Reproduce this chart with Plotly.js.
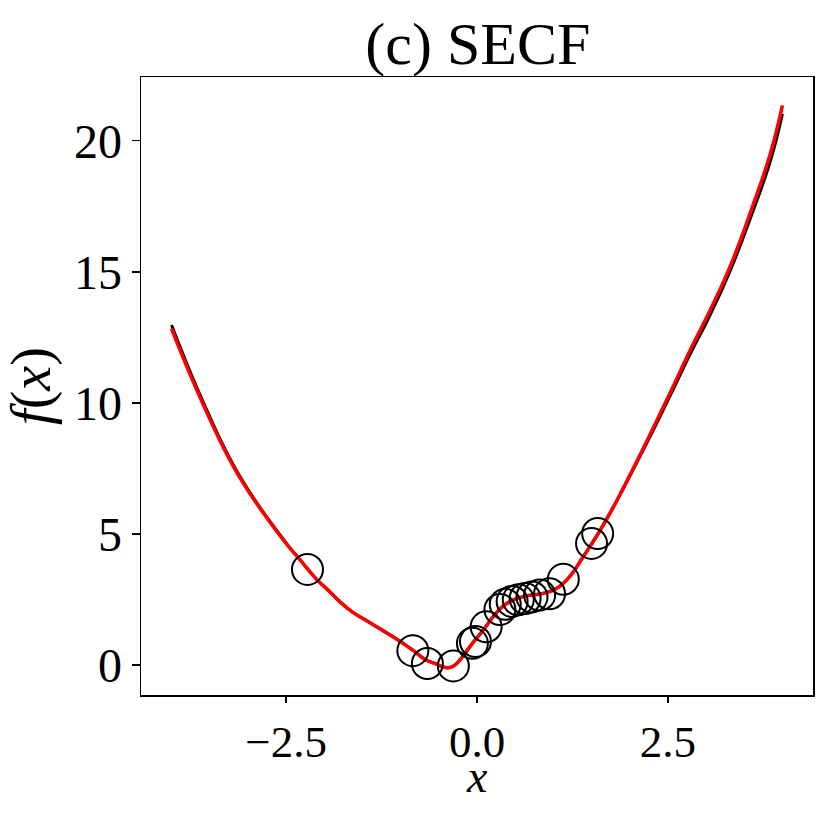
<!DOCTYPE html>
<html>
<head>
<meta charset="utf-8">
<script src="https://cdn.plot.ly/plotly-3.0.1.min.js"></script>
<style>
  html, body { margin: 0; padding: 0; background: #fff; }
  #chart { width: 831px; height: 831px; }
</style>
</head>
<body>
<div id="chart"></div>
<script>
/* -------------------- DATA -------------------- */

// true function (black)
const trueX = [-4.00, -3.55, -3.11, -2.50, -2.33, -2.11, -1.95, -1.80, -1.63, -1.45, -1.10, -0.84, -0.67, -0.53, -0.45, -0.38, -0.31, -0.24, -0.19, -0.06, 0.08, 0.21, 0.34, 0.47, 0.65, 0.86, 1.04, 1.21, 1.39, 1.56, 1.78, 1.91, 2.22, 2.52, 2.79, 3.03, 3.31, 3.62, 3.84, 4.00];
const trueY = [12.97, 9.80, 7.22, 4.66, 4.06, 3.30, 2.86, 2.43, 2.02, 1.70, 1.08, 0.57, 0.20, 0.04, -0.07, -0.10, -0.04, 0.14, 0.32, 0.83, 1.33, 1.84, 2.25, 2.48, 2.64, 2.73, 2.92, 3.36, 4.13, 4.89, 6.00, 6.70, 8.45, 10.22, 11.85, 13.22, 15.00, 17.36, 19.20, 21.03];

// SECF prediction (red)
const predX = [-4.00, -3.55, -3.11, -2.50, -2.33, -2.11, -1.95, -1.80, -1.63, -1.45, -1.10, -0.84, -0.67, -0.53, -0.45, -0.38, -0.31, -0.24, -0.19, -0.06, 0.08, 0.21, 0.34, 0.47, 0.65, 0.86, 1.04, 1.21, 1.39, 1.56, 1.78, 1.91, 2.22, 2.52, 2.79, 3.03, 3.31, 3.62, 3.84, 4.00];
const predY = [12.83, 9.71, 7.17, 4.64, 4.06, 3.30, 2.86, 2.43, 2.02, 1.70, 1.08, 0.57, 0.20, 0.04, -0.07, -0.10, -0.04, 0.14, 0.32, 0.83, 1.33, 1.84, 2.25, 2.48, 2.64, 2.73, 2.92, 3.36, 4.13, 4.89, 6.00, 6.72, 8.52, 10.33, 12.00, 13.40, 15.17, 17.59, 19.49, 21.35];

// observations (open circles)
const obsX = [-2.22, -0.84, -0.65, -0.31, -0.06, -0.02, 0.12, 0.30, 0.37, 0.46, 0.54, 0.63, 0.72, 0.82, 0.95, 1.13, 1.50, 1.58];
const obsY = [3.65, 0.55, 0.06, -0.03, 0.83, 0.90, 1.46, 2.12, 2.32, 2.43, 2.49, 2.54, 2.60, 2.67, 2.72, 3.27, 4.64, 5.02];

const xTicks = [-2.5, 0.0, 2.5];
const yTicks = [0, 5, 10, 15, 20];

/* -------------------- PLOT -------------------- */

const FONT = 'Liberation Serif, DejaVu Serif, serif';

const traces = [
  { x: trueX, y: trueY, mode: 'lines', line: { color: '#000', width: 3, shape: 'spline', smoothing: 1.3 }, hoverinfo: 'skip' },
  { x: predX, y: predY, mode: 'lines', line: { color: '#ff0000', width: 3.5, shape: 'spline', smoothing: 1.3 }, hoverinfo: 'skip' },
  { x: obsX, y: obsY, mode: 'markers',
    marker: { symbol: 'circle-open', size: 31, color: '#000', line: { color: '#000', width: 2 } },
    hoverinfo: 'skip' }
];

const axisCommon = {
  showgrid: false, zeroline: false,
  showline: true, mirror: true, linecolor: '#000', linewidth: 1.5,
  ticks: 'outside', ticklen: 8, tickwidth: 1.5, tickcolor: '#000',
  tickfont: { family: FONT, size: 48, color: '#000' },
  automargin: false
};

const layout = {
  width: 831, height: 831,
  margin: { l: 141, r: 18, t: 77, b: 136 },
  paper_bgcolor: '#fff', plot_bgcolor: '#fff',
  showlegend: false,
  title: {
    text: '(c) SECF',
    font: { family: FONT, size: 60, color: '#000' },
    x: 0.575, xanchor: 'center',
    y: 0.948, yref: 'container', yanchor: 'middle'
  },
  xaxis: Object.assign({}, axisCommon, {
    range: [-4.4, 4.4],
    tickvals: xTicks, tickformat: '.1f',
    tickfont: { family: FONT, size: 45, color: '#000' },
    ticklen: 6
  }),
  yaxis: Object.assign({}, axisCommon, {
    range: [-1.14, 22.43],
    tickvals: yTicks,
    title: { text: '<i>f</i>(<i>x</i>)', font: { family: FONT, size: 56, color: '#000' }, standoff: 14 }
  }),
  annotations: [{
    text: '<i>x</i>', showarrow: false,
    xref: 'paper', yref: 'paper', x: 0.5, y: -0.132,
    xanchor: 'center', yanchor: 'middle',
    font: { family: FONT, size: 46, color: '#000' }
  }]
};

Plotly.newPlot('chart', traces, layout, { displayModeBar: false, staticPlot: true });
</script>
</body>
</html>
